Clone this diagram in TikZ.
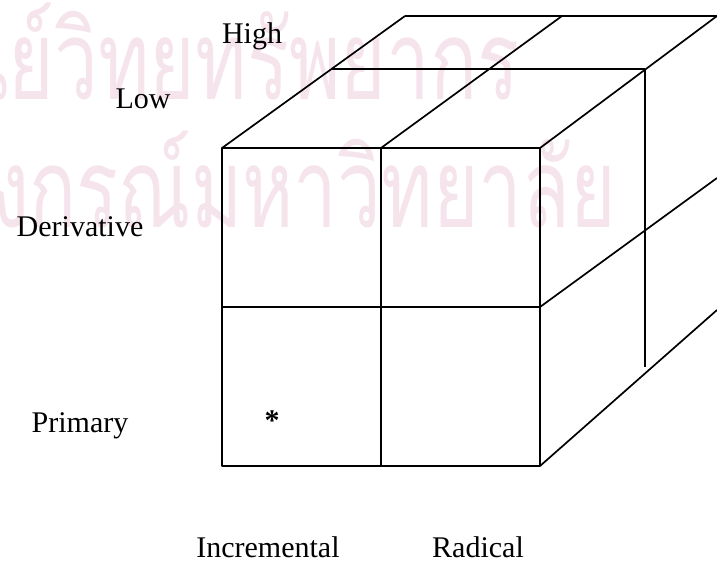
\documentclass[tikz,border=0pt]{standalone}
\usepackage{fontspec}
\setmainfont{Liberation Serif}
\newfontfamily\thaifont[Script=Thai]{Loma}
\definecolor{wzrosa}{RGB}{246,228,237}

\tikzset{
  wz/.style={text=wzrosa,font=\thaifont\fontsize{110}{120}\selectfont,xscale=0.71,inner sep=0pt},
  lbl/.style={anchor=base,inner sep=0pt}
}

\begin{document}
\begin{tikzpicture}[x=1pt,y=-1pt,font=\fontsize{30}{36}\selectfont,line width=1.7pt,line join=round]
\useasboundingbox (0,0) rectangle (717,561);
% Wasserzeichen
\node[wz,anchor=base east] (wzoben) at (520,100) {ศูนย์วิทยทรัพยากร};
\node[wz,anchor=base east] (wzunten) at (617,228) {จุฬาลงกรณ์มหาวิทยาลัย};
% Vorderseite
\draw (222,148) rectangle (540,466);
\draw (381,148) -- (381,466); \draw (222,307) -- (540,307);
% Oberseite
\draw (332,69) -- (645,69); \draw (405,16) -- (717,16);
\foreach \x/\X in {222/405,381/562,540/717}{\draw (\x,148) -- (\X,16);}
% Seitenflaeche
\draw (540,307) -- (717,178); \draw (540,466) -- (717,310);
\draw (645,69) -- (645,367);
% Beschriftung
\node[lbl] (high) at (252,44) {High};
\node[lbl] (low) at (143,109) {Low};
\node[lbl] (deriv) at (80,237) {Derivative};
\node[lbl] (prim) at (80,432) {Primary};
\node[lbl] (incr) at (268,557) {Incremental};
\node[lbl] (rad) at (478,557) {Radical};
\node[lbl] (stern) at (272,430) {\textbf{*}};
\end{tikzpicture}
\end{document}
